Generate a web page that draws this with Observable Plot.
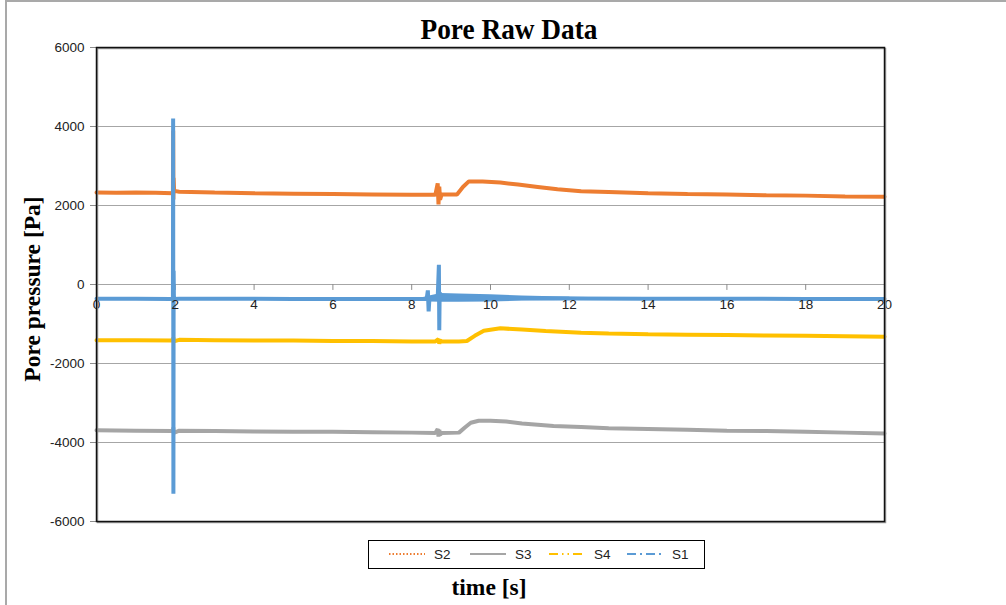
<!DOCTYPE html>
<html>
<head>
<meta charset="utf-8">
<script src="https://cdn.jsdelivr.net/npm/d3@7"></script>
<script src="https://cdn.jsdelivr.net/npm/@observablehq/plot@0.6"></script>
<style>
  body { margin: 0; background: #fff; }
  #chart { position: relative; width: 1006px; height: 605px; overflow: hidden; font-family: "Liberation Sans", Arial, sans-serif; }
  #outer { position: absolute; left: 5px; top: 0; width: 1001px; height: 605px; border-top: 2px solid #a9a9a9; border-left: 2px solid #a9a9a9; box-sizing: border-box; }
  #plot { position: absolute; left: 0; top: 0; }
  .serif { position: absolute; font-family: "Liberation Serif", "Times New Roman", serif; font-weight: bold; color: #000; white-space: nowrap; line-height: 1; }
  #title { left: 509px; top: 29px; font-size: 30px; transform: translate(-50%, -50%) scaleX(0.91); }
  #ylab { left: 33px; top: 289px; font-size: 23.5px; transform: translate(-50%, -50%) rotate(-90deg); }
  #xlab { left: 489px; top: 588px; font-size: 23.5px; transform: translate(-50%, -50%); }
  #legend { position: absolute; left: 368px; top: 540px; width: 337px; height: 29px; border: 1.5px solid #000; box-sizing: border-box; font-size: 13.5px; }
  .item { position: absolute; top: 0; height: 26px; display: flex; align-items: center; }
  .item span { margin-left: 9px; color: #222; }
</style>
</head>
<body>
<div id="chart">
  <div id="outer"></div>
  <div id="plot"></div>
  <div id="title" class="serif">Pore Raw Data</div>
  <div id="ylab" class="serif">Pore pressure [Pa]</div>
  <div id="xlab" class="serif">time [s]</div>
  <div id="legend"></div>
</div>
<script>
// Pore pressure records from four sensors (time in s, pressure in Pa)
const s2Time = [0, 0.5, 1.0, 1.5, 1.94, 1.946, 1.952, 1.958, 1.97, 2.1, 3, 4, 5, 6, 7, 8, 8.6, 8.66, 8.68, 8.70, 8.72, 8.76, 9.15, 9.3, 9.45, 9.8, 10.25, 10.7, 11.2, 11.7, 12.3, 13, 14, 15, 16, 17, 18, 19, 20];
const s2Pa   = [2330, 2320, 2330, 2320, 2310, 3900, 2150, 2700, 2370, 2350, 2330, 2310, 2300, 2290, 2280, 2270, 2270, 2560, 2030, 2480, 2150, 2280, 2280, 2470, 2610, 2610, 2580, 2530, 2470, 2410, 2360, 2340, 2310, 2290, 2280, 2260, 2250, 2230, 2220];

const s3Time = [0, 1, 1.94, 1.95, 1.96, 2.1, 3, 4, 5, 6, 7, 8, 8.6, 8.66, 8.68, 8.70, 8.72, 8.76, 9.2, 9.35, 9.5, 9.7, 10.0, 10.4, 10.8, 11.2, 11.6, 12.3, 13, 14, 15, 16, 17, 18, 19, 20];
const s3Pa   = [-3690, -3700, -3710, -3620, -3760, -3700, -3710, -3720, -3730, -3730, -3740, -3750, -3760, -3660, -3850, -3680, -3800, -3760, -3750, -3620, -3500, -3450, -3450, -3470, -3520, -3550, -3580, -3610, -3640, -3660, -3680, -3700, -3710, -3730, -3750, -3770];

const s4Time = [0, 1, 1.94, 1.95, 1.96, 2.1, 3, 4, 5, 6, 7, 8, 8.6, 8.68, 8.70, 8.72, 8.76, 9.2, 9.4, 9.6, 9.83, 10.25, 10.8, 11.4, 12.3, 13, 14, 15, 16, 17, 18, 19, 20];
const s4Pa   = [-1410, -1410, -1420, -1340, -1440, -1400, -1410, -1420, -1420, -1430, -1430, -1440, -1440, -1380, -1500, -1420, -1440, -1440, -1430, -1300, -1170, -1110, -1140, -1180, -1220, -1240, -1260, -1270, -1280, -1290, -1300, -1310, -1320];

const s1Time = [0, 1, 1.9, 1.94, 1.945, 1.952, 1.958, 1.965, 2.1, 3, 4, 5, 6, 7, 8, 8.38, 8.41, 8.43, 8.45, 8.66, 8.69, 8.70, 8.71, 8.74, 9, 10, 11, 12, 14, 16, 18, 20];
const s1Pa   = [-360, -360, -365, -370, 4200, -5300, 350, -370, -360, -360, -360, -365, -365, -365, -365, -360, -150, -680, -360, -340, 500, -1160, -200, -330, -340, -345, -350, -355, -360, -360, -365, -365];

// Envelope of the wider scatter of S1 after the second event
const s1BandTime = [8.3, 8.45, 8.75, 9.2, 10, 10.8, 11.6, 12.5, 14];
const s1BandLow  = [-400, -440, -450, -450, -440, -420, -410, -400, -400];
const s1BandHigh = [-330, -290, -230, -240, -260, -290, -310, -320, -330];

const seriesNames  = ["S2", "S3", "S4", "S1"];
const seriesColors = ["#ED7D31", "#A5A5A5", "#FFC000", "#5B9BD5"];
const legendDash   = ["1.5,2", null, "9,4,1.5,4,1.5,4", "9,4,2,4"];

const yTicks = [-6000, -4000, -2000, 0, 2000, 4000, 6000];
const yGrid  = [-4000, -2000, 0, 2000, 4000];
const xTicks = [0, 2, 4, 6, 8, 10, 12, 14, 16, 18, 20];

const toRows = (ts, ps) => ts.map((t, i) => ({t, p: ps[i]}));
const seriesRows = [toRows(s2Time, s2Pa), toRows(s3Time, s3Pa), toRows(s4Time, s4Pa), toRows(s1Time, s1Pa)];
const band = s1BandTime.map((t, i) => ({t, lo: s1BandLow[i], hi: s1BandHigh[i]}));

const marks = [
  Plot.ruleY(yGrid, {stroke: "#a6a6a6", strokeWidth: 1}),
  Plot.ruleX(xTicks, {x: d => d, y1: 0, y2: -150, stroke: "#8c8c8c"}),
];
seriesRows.forEach((rows, k) => {
  if (k === 3) {
    marks.push(Plot.areaY(band, {x: "t", y1: "lo", y2: "hi", fill: seriesColors[3], curve: "linear"}));
  }
  marks.push(Plot.line(rows, {x: "t", y: "p", stroke: seriesColors[k], strokeWidth: 4, strokeLinejoin: "miter"}));
});
marks.push(
  Plot.text(xTicks, {x: d => d, y: 0, dy: 20, text: d => String(d), fontSize: 13.5, fill: "#222"}),
  Plot.axisY(yTicks, {tickSize: 6, tickPadding: 6, fontSize: 13.5, stroke: "#8c8c8c", color: "#222", label: null, tickFormat: d => String(d)}),
  Plot.frame({stroke: "#9a9a9a", strokeWidth: 1.5, dx: 1, dy: 1}),
  Plot.frame({stroke: "#111", strokeWidth: 1.5})
);

const chart = Plot.plot({
  width: 1006,
  height: 605,
  marginLeft: 96,
  marginRight: 122,
  marginTop: 47,
  marginBottom: 84,
  style: {fontFamily: "'Liberation Sans', Arial, sans-serif", background: "transparent", overflow: "visible"},
  x: {domain: [0, 20], axis: null},
  y: {domain: [-6000, 6000], axis: null},
  marks
});
document.getElementById("plot").appendChild(chart);

// Legend
const legendX = [20, 101, 180, 258];
const legend = document.getElementById("legend");
seriesNames.forEach((name, i) => {
  const item = document.createElement("div");
  item.className = "item";
  item.style.left = legendX[i] + "px";
  const dash = legendDash[i] ? ` stroke-dasharray="${legendDash[i]}"` : "";
  item.innerHTML = `<svg width="36" height="6"><line x1="0" y1="3" x2="36" y2="3" stroke="${seriesColors[i]}" stroke-width="2.2"${dash}/></svg><span>${name}</span>`;
  legend.appendChild(item);
});
</script>
</body>
</html>
